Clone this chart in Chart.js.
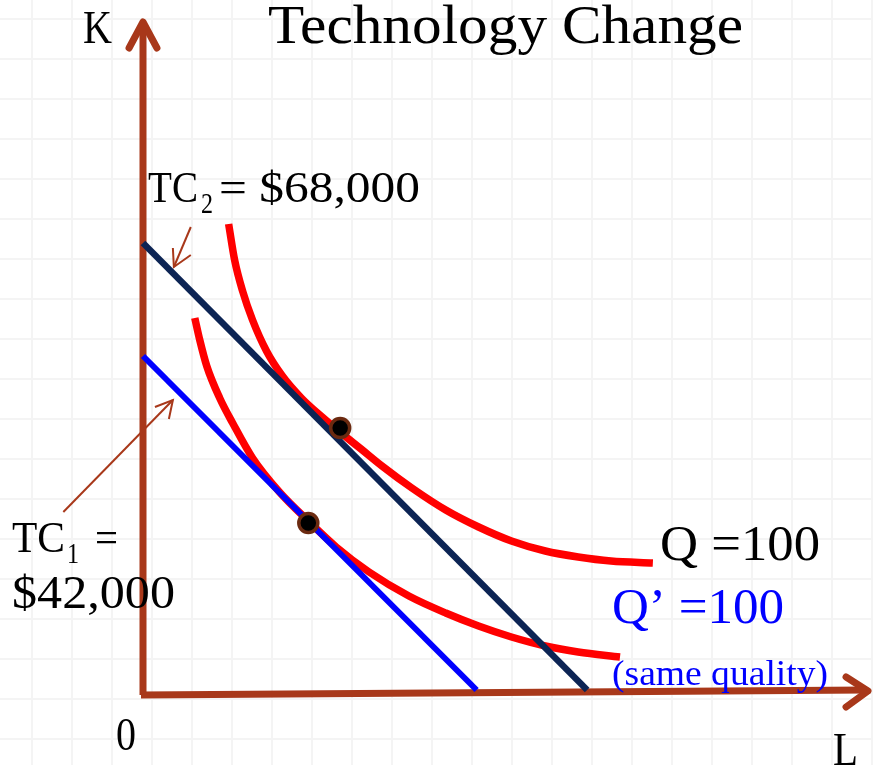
<!DOCTYPE html>
<html>
<head>
<meta charset="utf-8">
<style>
  html, body { margin: 0; padding: 0; background: #fff; }
  #c {
    display: block;
    background-color: #fff;
    background-image:
      linear-gradient(to right, #f4f4f4 2px, transparent 2px),
      linear-gradient(to bottom, #f4f4f4 2px, transparent 2px);
    background-size: 40px 40px;
    background-position: 31px 18px;
  }
</style>
</head>
<body>
<canvas id="c" width="873" height="765"></canvas>

<script src="https://cdn.jsdelivr.net/npm/chart.js"></script>
<script>
// isoquant Q = 100 (old technology)
const qL = [8.6, 9.2, 10.0, 11.0, 12.4, 14.0, 16.0, 18.0, 19.9, 21.9, 24.0, 27.0, 30.4, 33.7, 37.0, 40.4, 43.7, 47.0, 51.2];
const qK = [46.8, 43.2, 40.1, 37.2, 34.1, 31.6, 29.3, 27.5, 25.9, 24.3, 22.6, 20.4, 18.2, 16.5, 15.1, 14.1, 13.5, 13.1, 12.9];

// isoquant Q' = 100 (new technology)
const q2L = [5.2, 5.7, 6.4, 7.7, 9.0, 11.0, 13.7, 16.6, 19.4, 22.7, 26.7, 30.4, 33.7, 37.0, 40.4, 43.7, 47.9];
const q2K = [37.4, 35.2, 32.6, 29.4, 26.9, 23.4, 20.0, 17.1, 14.5, 12.0, 9.6, 7.9, 6.6, 5.5, 4.6, 4.0, 3.5];

// isocost lines
const tc2L = [0, 44.6];
const tc2K = [44.9, 0.2];
const tc1L = [0, 33.5];
const tc1K = [33.6, 0.2];

// tangency points
const optL = [19.8, 16.6];
const optK = [26.4, 16.9];

// axes and arrow heads
const kAxisL = [0, 0];
const kAxisK = [-0.3, 67];
const kHeadL = [-1.4, 0, 1.4];
const kHeadK = [64.4, 67, 64.4];
const lAxisL = [-0.2, 72.7];
const lAxisK = [-0.3, 0.2];
const lHeadL = [70.6, 72.8, 70.6];
const lHeadK = [1.5, 0.1, -1.5];

// little pointer arrows for the cost labels
const tc2PtrL = [4.8, 3.1];
const tc2PtrK = [46.5, 42.5];
const tc2TipL = [3.0, 3.1, 4.8];
const tc2TipK = [44.4, 42.5, 43.7];
const tc1PtrL = [-8.0, 3.0];
const tc1PtrK = [18.0, 29.2];
const tc1TipL = [1.2, 3.0, 2.6];
const tc1TipK = [28.5, 29.2, 27.3];

const title = "Technology Change";
const labels = ["K", "L", "0", "Q =100", "Q\u2019 =100", "(same quality)", "$42,000"];

const BROWN = "#a8381a";
const NAVY = "#0c2454";

function pts(xs, ys) {
  return xs.map((x, i) => ({ x: x, y: ys[i] }));
}

function line(xs, ys, color, width, extra) {
  return Object.assign({
    data: pts(xs, ys),
    showLine: true,
    borderColor: color,
    borderWidth: width,
    pointRadius: 0,
    clip: false,
    borderCapStyle: "butt"
  }, extra || {});
}

// draw a text squeezed/stretched to the width seen in the picture
function txt(ctx, s, x, base, size, color, w) {
  ctx.font = size + 'px "Liberation Serif", serif';
  const m = ctx.measureText(s).width;
  ctx.save();
  ctx.fillStyle = color;
  ctx.textBaseline = "alphabetic";
  ctx.translate(x, base);
  ctx.scale(w / m, 1);
  ctx.fillText(s, 0, 0);
  ctx.restore();
}

const textPlugin = {
  id: "texts",
  afterDatasetsDraw(chart) {
    const ctx = chart.ctx;
    txt(ctx, title, 268, 43, 54, "#000", 475);
    txt(ctx, labels[0], 83, 43, 46, "#000", 29);
    txt(ctx, labels[1], 833, 765, 46, "#000", 25);
    txt(ctx, labels[2], 116, 750, 46, "#000", 20);

    txt(ctx, "TC", 148, 202, 45, "#000", 50);
    txt(ctx, "2", 201, 213, 30, "#000", 12);
    txt(ctx, "= $68,000", 219, 202, 45, "#000", 201);

    txt(ctx, "TC", 12, 552, 45, "#000", 53);
    txt(ctx, "1", 67, 563, 30, "#000", 12);
    txt(ctx, "=", 95, 552, 45, "#000", 23);
    txt(ctx, labels[6], 12, 608, 46, "#000", 163);

    txt(ctx, labels[3], 660, 560, 50, "#000", 160);
    txt(ctx, labels[4], 612, 623, 50, "#0000ff", 172);
    txt(ctx, labels[5], 612, 685, 36, "#0000ff", 216);
  }
};

new Chart(document.getElementById("c"), {
  type: "scatter",
  data: {
    datasets: [
      {
        data: pts(optL, optK),
        pointRadius: 9.5,
        pointBorderWidth: 3.5,
        pointBackgroundColor: "#000",
        pointBorderColor: "#6b2a10",
        clip: false
      },
      line(tc1L, tc1K, "#0000ff", 6),
      line(tc2L, tc2K, NAVY, 6.5),
      line(qL, qK, "#ff0000", 7.5, { cubicInterpolationMode: "monotone" }),
      line(q2L, q2K, "#ff0000", 7.5, { cubicInterpolationMode: "monotone" }),
      line(tc2PtrL, tc2PtrK, BROWN, 2),
      line(tc2TipL, tc2TipK, BROWN, 2),
      line(tc1PtrL, tc1PtrK, BROWN, 2),
      line(tc1TipL, tc1TipK, BROWN, 2),
      line(kAxisL, kAxisK, BROWN, 7),
      line(kHeadL, kHeadK, BROWN, 7, { borderCapStyle: "round", borderJoinStyle: "round" }),
      line(lAxisL, lAxisK, BROWN, 7),
      line(lHeadL, lHeadK, BROWN, 7, { borderCapStyle: "round", borderJoinStyle: "round" })
    ]
  },
  options: {
    responsive: false,
    animation: false,
    devicePixelRatio: 1,
    layout: { padding: { left: 143, right: 10, top: 22, bottom: 73 } },
    scales: {
      x: { type: "linear", min: 0, max: 72, display: false },
      y: { type: "linear", min: 0, max: 67, display: false }
    },
    plugins: {
      legend: { display: false },
      tooltip: { enabled: false }
    }
  },
  plugins: [textPlugin]
});
</script>
</body>
</html>
